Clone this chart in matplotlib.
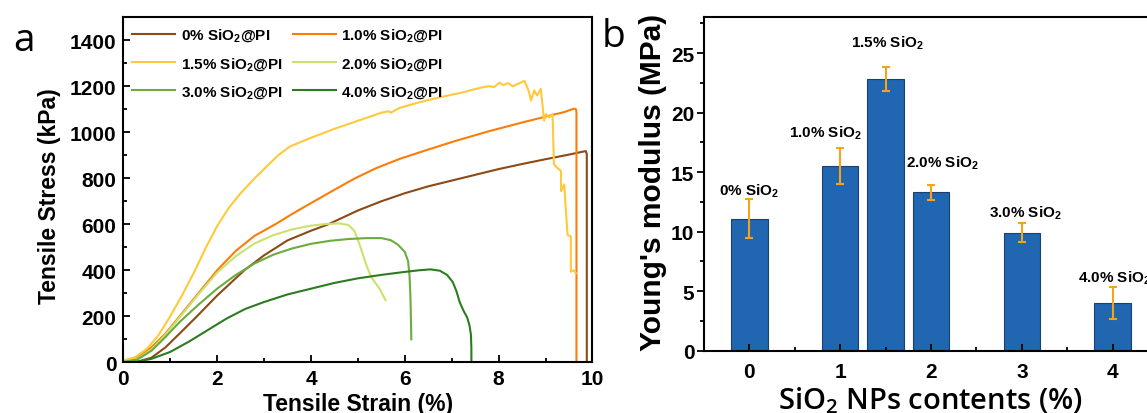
import matplotlib
matplotlib.use("Agg")
import matplotlib.pyplot as plt
from matplotlib.ticker import MultipleLocator

plt.rcParams['font.family'] = ['Liberation Sans', 'DejaVu Sans']
plt.rcParams['mathtext.default'] = 'regular'

# ---- panel a: stress-strain curves (strain %, stress kPa) ----
labels_a = ['0% SiO$_2$@PI', '1.0% SiO$_2$@PI', '1.5% SiO$_2$@PI',
            '2.0% SiO$_2$@PI', '3.0% SiO$_2$@PI', '4.0% SiO$_2$@PI']
colors_a = ['#8b4a16', '#fb7d07', '#ffc93a', '#c9e26f', '#6cab3e', '#2b7c1f']

strain_0 = [0, 0.3, 0.6, 0.9, 1.2, 1.57, 2.0, 2.58, 3.0, 3.5, 4.0, 4.37, 5.0, 5.5,
            6.0, 6.5, 7.0, 7.5, 8.0, 8.5, 9.0, 9.5, 9.8, 9.86, 9.88, 9.88]
stress_0 = [0, 2, 20, 65, 125, 200, 290, 400, 465, 530, 572, 600, 660, 700,
            735, 765, 790, 815, 840, 862, 883, 903, 916, 918, 905, 0]

strain_1 = [0, 0.3, 0.6, 0.9, 1.2, 1.6, 2.0, 2.4, 2.8, 3.24, 3.6, 4.0, 4.5,
            4.94, 5.4, 5.9, 6.5, 7.09, 7.8, 8.51, 9.0, 9.4, 9.61, 9.65, 9.66, 9.66]
stress_1 = [5, 20, 65, 125, 200, 300, 400, 485, 550, 600, 645, 692, 750,
            800, 845, 885, 925, 963, 1005, 1043, 1068, 1088, 1103, 1100, 1085, 0]

strain_15 = [0, 0.25, 0.5, 0.75, 1.0, 1.25, 1.53, 1.75, 2.0, 2.25, 2.5, 2.8,
             3.05, 3.3, 3.55, 3.75, 4.0, 4.5, 5.0, 5.5, 5.66, 5.7, 5.89, 6.3,
             6.74, 7.2, 7.6, 7.8, 7.9, 8.02, 8.1, 8.2, 8.3, 8.42, 8.55, 8.6,
             8.65, 8.69, 8.76, 8.82, 8.9, 8.97, 9.01, 9.08, 9.15, 9.18, 9.25,
             9.33, 9.33, 9.4, 9.43, 9.47, 9.54, 9.54, 9.6, 9.65]
stress_15 = [8, 22, 58, 118, 200, 290, 400, 495, 592, 672, 735, 800,
             850, 900, 938, 955, 976, 1015, 1050, 1085, 1092, 1085, 1106, 1130,
             1152, 1172, 1193, 1201, 1196, 1216, 1205, 1214, 1200, 1211, 1224, 1200,
             1175, 1138, 1182, 1160, 1189, 1050, 1079, 1065, 1079, 861, 845,
             832, 744, 773, 671, 554, 547, 394, 400, 387]

strain_2 = [0, 0.3, 0.6, 0.9, 1.2, 1.6, 2.0, 2.4, 2.8, 3.2, 3.6, 4.0, 4.3,
            4.6, 4.8, 4.93, 5.04, 5.18, 5.28, 5.46, 5.59]
stress_2 = [3, 15, 55, 120, 195, 295, 390, 462, 517, 553, 578, 594, 601,
            604, 597, 570, 510, 423, 372, 321, 270]

strain_3 = [0, 0.3, 0.6, 0.9, 1.2, 1.6, 2.0, 2.4, 2.8, 3.2, 3.6, 4.0, 4.4,
            4.8, 5.2, 5.5, 5.7, 5.85, 6.0, 6.07, 6.1, 6.12, 6.14]
stress_3 = [2, 12, 50, 110, 175, 250, 320, 380, 430, 468, 495, 515, 528,
            536, 540, 540, 531, 512, 480, 440, 380, 290, 100]

strain_4 = [0, 0.3, 0.6, 1.0, 1.4, 1.8, 2.2, 2.6, 3.0, 3.5, 4.0, 4.5, 5.0,
            5.5, 6.0, 6.3, 6.55, 6.75, 6.9, 7.02, 7.1, 7.17, 7.25, 7.33, 7.38,
            7.41, 7.42, 7.42]
stress_4 = [0, 3, 15, 45, 90, 140, 190, 232, 262, 295, 320, 345, 365,
            380, 393, 400, 404, 398, 380, 350, 310, 262, 225, 195, 160,
            120, 60, 0]

curves = [(strain_0, stress_0), (strain_1, stress_1), (strain_15, stress_15),
          (strain_2, stress_2), (strain_3, stress_3), (strain_4, stress_4)]

# ---- panel b: Young's modulus ----
content = [0, 1, 1.5, 2, 3, 4]
modulus = [11.1, 15.5, 22.8, 13.3, 9.9, 4.0]
modulus_err = [1.65, 1.5, 1.0, 0.65, 0.8, 1.35]
bar_labels = ['0% SiO$_2$', '1.0% SiO$_2$', '1.5% SiO$_2$',
              '2.0% SiO$_2$', '3.0% SiO$_2$', '4.0% SiO$_2$']
label_x = [0, 0.84, 1.52, 2.13, 3.04, 4.02]
label_y = [13.5, 18.35, 25.9, 15.8, 11.6, 6.2]

fig = plt.figure(figsize=(11.47, 4.14), dpi=100)

ax = fig.add_axes([0.1075, 0.1225, 0.409, 0.8333])
lines = []
for (x, y), c, lab in zip(curves, colors_a, labels_a):
    ln, = ax.plot(x, y, color=c, lw=1.5, label=lab)
    lines.append(ln)
ax.set_xlim(0, 10)
ax.set_ylim(0, 1500)
ax.xaxis.set_major_locator(MultipleLocator(2))
ax.xaxis.set_minor_locator(MultipleLocator(1))
ax.yaxis.set_minor_locator(MultipleLocator(100))
ax.set_yticks([0, 200, 400, 600, 800, 1000, 1200, 1400])
ax.tick_params(which='both', direction='in', width=1.3)
ax.tick_params(which='major', length=5)
ax.tick_params(which='minor', length=3)
ax.tick_params(axis='x', pad=5)
ax.tick_params(axis='y', pad=5)
for t in ax.get_xticklabels() + ax.get_yticklabels():
    t.set_fontsize(15)
    t.set_fontweight('bold')
for s in ax.spines.values():
    s.set_linewidth(1.5)
ax.set_xlabel('Tensile Strain (%)', fontsize=16.5, fontweight='bold', va='top')
ax.xaxis.set_label_coords(0.5, -0.085)
ax.set_ylabel('Tensile Stress (kPa)', fontsize=16.5, fontweight='bold')
ax.yaxis.set_label_coords(-0.133, 0.485)
order = [0, 2, 4, 1, 3, 5]
ax.legend([lines[i] for i in order], [labels_a[i] for i in order], ncol=2,
          loc='upper left', frameon=False, prop={'size': 11, 'weight': 'bold'},
          handlelength=2.8, handletextpad=0.35, columnspacing=0.7,
          labelspacing=0.75, borderaxespad=0.2, bbox_to_anchor=(0.0, 1.0))

bx = fig.add_axes([0.6138, 0.1505, 0.3958, 0.8053])
bx.bar(content, modulus, width=0.4, color='#2166b0', edgecolor='#1b3f70', linewidth=0.8,
       yerr=modulus_err, error_kw=dict(ecolor='#f5a31a', elinewidth=1.5, capsize=3, capthick=1.5))
for xx, yy, t in zip(label_x, label_y, bar_labels):
    bx.text(xx, yy, t, ha='center', va='center', fontsize=11, fontweight='bold')
bx.set_xlim(-0.5, 4.5)
bx.set_ylim(0, 28)
bx.set_xticks([0, 1, 2, 3, 4])
bx.xaxis.set_minor_locator(MultipleLocator(0.5))
bx.yaxis.set_major_locator(MultipleLocator(5))
bx.yaxis.set_minor_locator(MultipleLocator(2.5))
bx.tick_params(axis='x', which='both', direction='in', pad=8, width=1.3)
bx.tick_params(axis='y', which='both', direction='out', pad=2, width=1.3)
bx.tick_params(which='major', length=5)
bx.tick_params(which='minor', length=3)
for t in bx.get_xticklabels() + bx.get_yticklabels():
    t.set_fontsize(15)
    t.set_fontweight('bold')
for s in bx.spines.values():
    s.set_linewidth(1.5)
bx.set_ylabel("Young's modulus (MPa)", fontsize=21.5, fontweight='bold')
bx.yaxis.set_label_coords(-0.0815, 0.509)
bx.set_xlabel('SiO$_2$ NPs contents (%)', fontsize=21, fontweight='semibold',
              family=['Open Sans', 'DejaVu Sans'], va='top')
bx.xaxis.set_label_coords(0.499, -0.1)

fig.text(0.021, 0.90, 'a', fontsize=28, family=['Open Sans', 'DejaVu Sans'], ha='center', va='center')
fig.text(0.535, 0.91, 'b', fontsize=28, family=['Open Sans', 'DejaVu Sans'], ha='center', va='center')

fig.savefig('out.png', dpi=100)
